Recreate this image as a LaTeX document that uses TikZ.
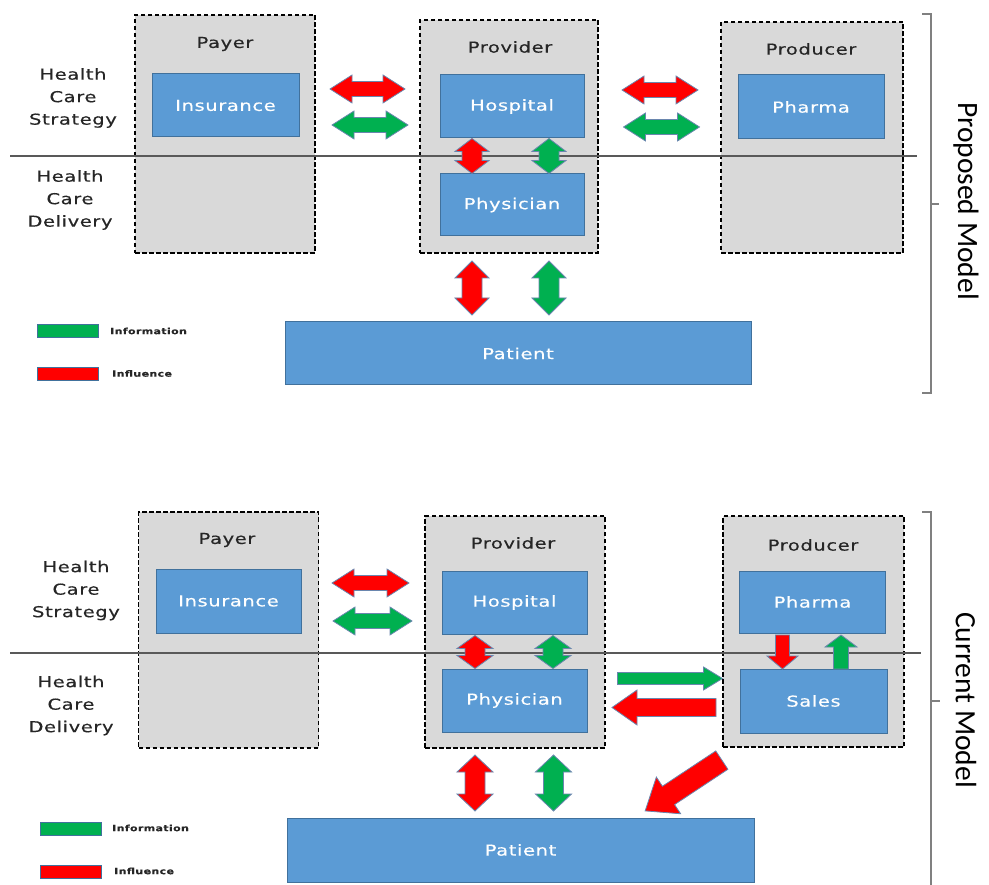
\documentclass[tikz,border=0pt]{standalone}
\usepackage{fontspec}
\newfontfamily\boxfont[FakeStretch=1.3,LetterSpace=4,FakeBold=0.4]{DejaVu Sans}
\newfontfamily\sidefont{Carlito}
\usetikzlibrary{calc}

\definecolor{boxblue}{HTML}{5B9BD5}
\definecolor{boxedge}{HTML}{41719C}
\definecolor{panelgray}{HTML}{D9D9D9}
\definecolor{infl}{HTML}{FF0000}
\definecolor{info}{HTML}{00B050}
\definecolor{arrowedge}{HTML}{6A86AE}
\definecolor{bracketgray}{HTML}{808080}
\definecolor{rulegray}{HTML}{595959}
\definecolor{titletext}{HTML}{262626}

% block double arrow: centre, angle, length, shaft half-width, head half-width, head length, fill
\newcommand{\blockdbl}[7]{%
  \begin{scope}[shift={#1},rotate=#2]
    \draw[arrowedge,fill=#7,line width=0.8pt,line join=miter]
      (-#3/2,0) -- (-#3/2+#6,#5) -- (-#3/2+#6,#4) -- (#3/2-#6,#4) -- (#3/2-#6,#5)
      -- (#3/2,0) -- (#3/2-#6,-#5) -- (#3/2-#6,-#4) -- (-#3/2+#6,-#4) -- (-#3/2+#6,-#5) -- cycle;
  \end{scope}}
% block single arrow pointing along the local x axis
\newcommand{\blocksgl}[7]{%
  \begin{scope}[shift={#1},rotate=#2]
    \draw[arrowedge,fill=#7,line width=0.8pt,line join=miter]
      (-#3/2,#4) -- (#3/2-#6,#4) -- (#3/2-#6,#5) -- (#3/2,0) -- (#3/2-#6,-#5)
      -- (#3/2-#6,-#4) -- (-#3/2,-#4) -- cycle;
  \end{scope}}

\tikzset{
  panel/.style={draw=black,dashed,dash pattern=on 4.5pt off 2.5pt,line width=1.2pt,fill=panelgray,
    inner sep=0pt,outer sep=0pt},
  bluebox/.style={draw=boxedge,line width=1pt,fill=boxblue,inner sep=0pt,outer sep=0pt,
    text=white,font=\boxfont\fontsize{15}{18}\selectfont},
  paneltitle/.style={text=titletext,font=\boxfont\fontsize{15}{18}\selectfont,inner sep=0pt},
  sidelabel/.style={text=titletext,align=center,font=\boxfont\fontsize{15}{22.5}\selectfont,inner sep=0pt},
  keybox/.style={draw=boxedge,line width=1pt,inner sep=0pt,minimum width=61pt,minimum height=13pt},
  keytext/.style={anchor=west,inner sep=0pt,text=titletext,font=\boxfont\bfseries\fontsize{8.5}{10}\selectfont},
  modeltext/.style={rotate=-90,inner sep=0pt,font=\sidefont\fontsize{29.5}{31}\selectfont},
  divider/.style={rulegray,line width=1.5pt},
  bracket/.style={bracketgray,line width=2pt}
}

\begin{document}
\begin{tikzpicture}[x=1pt,y=-1pt]
\useasboundingbox (0,0) rectangle (989,885);

%% ---------------- upper diagram ----------------
\node[panel,minimum width=180pt,minimum height=238pt] (payT) at (225,134) {};
\node[panel,minimum width=178pt,minimum height=233pt] (provT) at (509,136.5) {};
\node[panel,minimum width=182pt,minimum height=231pt] (prodT) at (812,137.5) {};
\node[paneltitle] (payTt) at (225,44) {Payer};
\node[paneltitle] (provTt) at (510,47) {Provider};
\node[paneltitle] (prodTt) at (811,49) {Producer};

\draw[divider] (10,156) coordinate (lnTa) -- (917,156) coordinate (lnTb);

\node[sidelabel] (stratT) at (73,98) {Health\\Care\\Strategy};
\node[sidelabel] (delivT) at (70,200) {Health\\Care\\Delivery};

\node[bluebox,minimum width=147pt,minimum height=63pt] (insT) at (225.5,105.5) {Insurance};
\node[bluebox,minimum width=144pt,minimum height=63pt] (hospT) at (512,106.5) {Hospital};
\node[bluebox,minimum width=144pt,minimum height=62pt] (physT) at (512,205) {Physician};
\node[bluebox,minimum width=146pt,minimum height=64pt] (pharmaT) at (811,107) {Pharma};
\node[bluebox,minimum width=466pt,minimum height=63pt] (patT) at (518,353.5) {Patient};

\blockdbl{(367.5,89)}{0}{75}{7.5}{14}{22}{infl}
\blockdbl{(370,125)}{0}{76}{7.5}{14}{22}{info}
\blockdbl{(660,90)}{0}{76}{7.5}{14}{22}{infl}
\blockdbl{(661.5,127)}{0}{76}{7.5}{14}{22}{info}
\blockdbl{(472,156)}{90}{35}{10}{17}{13}{infl}
\blockdbl{(549,156)}{90}{35}{10}{17}{13}{info}
\blockdbl{(472,288)}{90}{54}{10}{17}{17}{infl}
\blockdbl{(549,288)}{90}{54}{10}{17}{17}{info}

\node[keybox,fill=info] (keyInfoT) at (67.5,331.5) {};
\node[keytext] (keyInfoTt) at (110,331) {Information};
\node[keybox,fill=infl] (keyInflT) at (67.5,374.5) {};
\node[keytext] (keyInflTt) at (112,373.5) {Influence};

\draw[bracket] (922,14) -- (931,14) -- (931,393) -- (922,393);
\draw[bracket] (931,204) -- (939,204);
\node[modeltext] (propLbl) at (966,201) {Proposed Model};

%% ---------------- lower diagram ----------------
\node[panel,minimum width=180pt,minimum height=236pt] (payB) at (228.5,630) {};
\node[panel,minimum width=180pt,minimum height=232pt] (provB) at (515,632) {};
\node[panel,minimum width=181pt,minimum height=231pt] (prodB) at (813.5,631.5) {};
\node[paneltitle] (payBt) at (227,540) {Payer};
\node[paneltitle] (provBt) at (513,543) {Provider};
\node[paneltitle] (prodBt) at (813,545) {Producer};

\draw[divider] (10,653) coordinate (lnBa) -- (921,653) coordinate (lnBb);

\node[sidelabel] (stratB) at (76,590.5) {Health\\Care\\Strategy};
\node[sidelabel] (delivB) at (71,705.5) {Health\\Care\\Delivery};

\node[bluebox,minimum width=145pt,minimum height=64pt] (insB) at (228.5,601) {Insurance};
\node[bluebox,minimum width=145pt,minimum height=63pt] (hospB) at (514.5,602.5) {Hospital};
\node[bluebox,minimum width=145pt,minimum height=63pt] (physB) at (514.5,700.5) {Physician};
\node[bluebox,minimum width=146pt,minimum height=62pt] (pharmaB) at (812.5,602) {Pharma};
\node[bluebox,minimum width=147pt,minimum height=64pt] (salesB) at (813.5,701) {Sales};
\node[bluebox,minimum width=467pt,minimum height=64pt] (patB) at (520.5,850) {Patient};

\blockdbl{(370.5,583)}{0}{77}{7.5}{14}{22}{infl}
\blockdbl{(372.5,621)}{0}{79}{7.5}{14}{22}{info}
\blockdbl{(475,652)}{90}{33}{10}{18}{13}{infl}
\blockdbl{(553,652)}{90}{33}{10}{18}{13}{info}
\blocksgl{(782.5,652)}{-90}{34}{7}{15.5}{13}{infl}
\blocksgl{(841,652)}{90}{34}{7.5}{16}{12}{info}
\blocksgl{(670,678.5)}{0}{105}{6}{11.5}{19}{info}
\blocksgl{(664,707.5)}{180}{104}{9}{17.5}{25}{infl}
\blocksgl{(683.5,785.5)}{213.5}{92}{11}{22}{28}{infl}
\blockdbl{(475,783)}{90}{56}{10}{18}{17}{infl}
\blockdbl{(553.5,783)}{90}{56}{10}{18}{17}{info}

\node[keybox,fill=info] (keyInfoB) at (70.5,829) {};
\node[keytext] (keyInfoBt) at (112,828) {Information};
\node[keybox,fill=infl] (keyInflB) at (70.5,872) {};
\node[keytext] (keyInflBt) at (114,871) {Influence};

\draw[bracket] (922,512) -- (931,512) -- (931,890);
\draw[bracket] (931,701) -- (940,701);
\node[modeltext] (currLbl) at (966,700) {Current Model};
\end{tikzpicture}
\end{document}
